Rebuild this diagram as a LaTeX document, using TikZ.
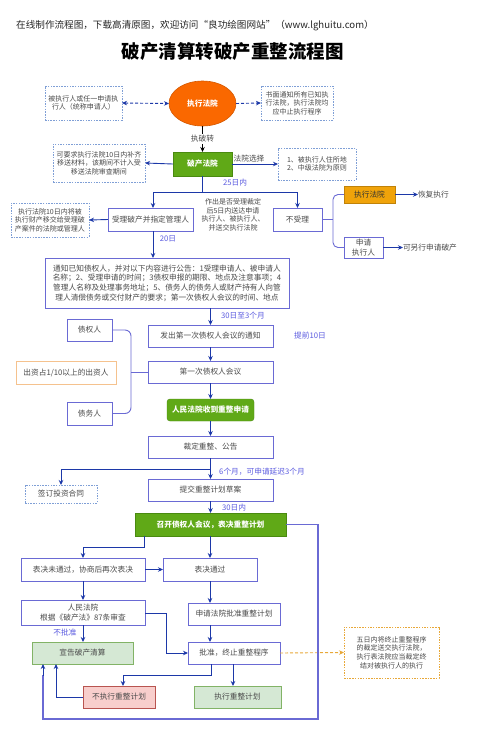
\documentclass[tikz,border=0pt]{standalone}
\usepackage{fontspec}
\setmainfont{Noto Sans CJK SC}
\usetikzlibrary{arrows.meta,shapes.geometric}
\definecolor{bxc}{HTML}{6A6AD4}
\definecolor{lnc}{HTML}{1C38A8}
\definecolor{lbc}{HTML}{5A5AE0}
\definecolor{txt}{HTML}{4A4A4A}
\definecolor{dbc}{HTML}{7F9FD6}
\definecolor{orgE}{HTML}{FA6800}
\definecolor{orgB}{HTML}{F0A30A}
\definecolor{grn}{HTML}{60A917}
\definecolor{grnD}{HTML}{4A8A10}
\definecolor{lgF}{HTML}{D5E8D4}
\definecolor{lgD}{HTML}{82B366}
\definecolor{lrF}{HTML}{F8CECC}
\definecolor{lrD}{HTML}{B85450}
\definecolor{pch}{HTML}{F5C28E}
\definecolor{ndash}{HTML}{E8A838}
\begin{document}
\begin{tikzpicture}[x=1pt,y=-1pt,
  base/.style={font=\fontsize{7.7}{9.6}\selectfont, text=txt, align=center, inner sep=0pt, outer sep=0pt},
  sz/.style 2 args={minimum width=#1pt, minimum height=#2pt},
  bx/.style={base, draw=bxc, line width=0.9pt, fill=white},
  dbx/.style={base, font=\fontsize{7}{8.6}\selectfont, draw=dbc, line width=0.7pt, dash pattern=on 1.5pt off 1.2pt, fill=white},
  gbx/.style={base, draw=grnD, fill=grn, text=white, font=\fontsize{7.7}{9.6}\selectfont\bfseries},
  lgbx/.style={base, draw=lgD, fill=lgF, line width=0.8pt},
  lrbx/.style={base, draw=lrD, fill=lrF, line width=0.8pt},
  arr/.style={draw=lnc, line width=0.9pt, -{Stealth[length=5pt,width=4.5pt]}},
  ln/.style={draw=lnc, line width=0.9pt},
  darr/.style={draw=lnc, line width=0.9pt, dash pattern=on 3pt off 2pt, -{Stealth[length=5pt,width=4.5pt]}},
  brc/.style={draw=bxc, line width=0.9pt},
  lab/.style={base, text=lbc, font=\fontsize{7.7}{9.6}\selectfont},
  plain/.style={base, font=\fontsize{7.7}{9.6}\selectfont}
]
\useasboundingbox[fill=white] (0,0) rectangle (478,737);

% header and title
\node[anchor=west, font=\fontsize{9.6}{11}\selectfont, text=black!85, inner sep=0pt] (hdr) at (16,26) {在线制作流程图，下载高清原图，欢迎访问“良功绘图网站”（www.lghuitu.com）};
\node[font=\fontsize{18.5}{20}\selectfont\bfseries, inner sep=0pt] (title) at (232.5,52) {破产清算转破产重整流程图};

% top part
\node[ellipse, base, sz={67}{45}, fill=orgE, draw=orgE!85!black, line width=0.6pt, text=white, font=\fontsize{7.7}{9.6}\selectfont\bfseries] (court) at (202.5,103.5) {执行法院};
\node[dbx, sz={77}{34}] (lbox) at (83.5,103) {被执行人或任一申请执\\行人（统称申请人）};
\node[dbx, sz={72}{34}] (rbox) at (297,103) {书面通知所有已知执\\行法院，执行法院均\\应中止执行程序};
\draw[darr, {Stealth[length=5pt,width=4.5pt]}-{Stealth[length=5pt,width=4.5pt]}] (lbox.east) -- (court.west);
\draw[darr] (court.east) -- (rbox.west);

\node[gbx, sz={59}{24}] (bc) at (202.5,164) {破产法院};
\draw[draw=black, line width=0.9pt, -{Stealth[length=5pt,width=4.5pt]}] (court.south) -- (bc.north);
\node[plain, fill=white, inner sep=1pt] (zpz) at (202.5,139) {执破转};

\node[dbx, sz={92}{38}] (bcl) at (99,163) {可要求执行法院10日内补齐\\移送材料，该期间不计入受\\移送法院审查期间};
\node[dbx, sz={78}{32}] (bcr) at (317,164) {1、被执行人住所地\\2、中级法院为原则};
\draw[arr] (bc.west) -- (bcl.east);
\draw[arr] (bc.east) -- (bcr.west);
\node[plain, anchor=south] (fyxz) at (249,162.5) {法院选择};

\node[bx, sz={85}{23}] (accept) at (150.5,219.5) {受理破产并指定管理人};
\node[bx, sz={49}{23}] (reject) at (297.5,219.5) {不受理};
\coordinate (sp1) at (202.5,192);
\draw[ln] (bc.south) -- (sp1);
\draw[arr] (sp1) -| ([xshift=2.5pt]accept.north);
\draw[arr] (sp1) -| (reject.north);
\node[lab] (d25) at (235,183) {25日内};
\node[base, font=\fontsize{7}{8.6}\selectfont] (mid) at (233,215) {作出是否受理裁定\\后5日内送达申请\\执行人、被执行人、\\并送交执行法院};

\node[dbx, sz={78}{34}] (accl) at (50,220) {执行法院10日内将被\\执行财产移交给受理破\\产案件的法院或管理人};
\draw[arr] (accept.west) -- (accl.east);

\node[base, sz={51}{17}, fill=orgB, draw=orgB!80!black, line width=0.6pt, text=black!80] (exc) at (369.5,194.5) {执行法院};
\node[bx, sz={39}{21}] (appl) at (363.5,247.5) {申请\\执行人};
\draw[brc, rounded corners=5pt] (exc.west) -- (333,194.5) -- (333,247.5) -- (appl.west);
\draw[brc] (reject.east) -- (333,219.5);
\node[plain, anchor=west] (hf) at (418,194.5) {恢复执行};
\node[plain, anchor=west] (lx) at (403,247.5) {可另行申请破产};
\draw[arr] (exc.east) -- (hf.west);
\draw[arr] (appl.east) -- (lx.west);

% notice
\node[bx, sz={244}{50}] (notice) at (167,283) {通知已知债权人，并对以下内容进行公告：1受理申请人、被申请人\\名称；2、受理申请的时间；3债权申报的期限、地点及注意事项；4\\管理人名称及处理事务地址；5、债务人的债务人或财产持有人向管\\理人清偿债务或交付财产的要求；第一次债权人会议的时间、地点};
\draw[arr] ([xshift=2.5pt]accept.south) -- ([xshift=2.5pt]accept.south |- notice.north);
\node[lab] (d20) at (168,239) {20日};

\node[bx, sz={125}{22}] (send) at (210.5,336) {发出第一次债权人会议的通知};
\draw[arr] (send.north |- notice.south) -- (send.north);
\node[lab] (d30) at (243,316) {30日至3个月};
\node[lab] (tq) at (310,336) {提前10日};

\node[bx, sz={125}{22}] (meet) at (210.5,372) {第一次债权人会议};
\draw[arr] (send.south) -- (meet.north);

\node[bx, sz={45}{22}] (cred) at (89.5,330) {债权人};
\node[bx, sz={45}{23}] (debt) at (89.5,413.5) {债务人};
\node[base, sz={100}{23}, draw=pch, line width=1pt, fill=white] (inv) at (66,372.5) {出资占1/10以上的出资人};
\draw[brc, rounded corners=6pt] (cred.east) -- (131,330) -- (131,413.5) -- (debt.east);
\draw[brc] (131,372) -- (meet.west);

\node[gbx, sz={87}{22}, rounded corners=3pt] (recv) at (210.5,410) {人民法院收到重整申请};
\draw[arr] (meet.south) -- (recv.north);

\node[bx, sz={125}{22}] (ruling) at (210.5,447) {裁定重整、公告};
\draw[arr] (recv.south) -- (ruling.north);

\node[bx, sz={125}{22}] (submit) at (210.5,490) {提交重整计划草案};
\node[dbx, sz={72}{18}, font=\fontsize{7.7}{9.6}\selectfont] (sign) at (61,494) {签订投资合同};
\coordinate (sp2) at (210.5,469);
\draw[arr] (ruling.south) -- (submit.north);
\draw[arr] (sp2) -| (sign.north);
\node[lab] (d6) at (262,472) {6个月，可申请延迟3个月};

\node[gbx, sz={151}{23}] (conv) at (210.5,524.5) {召开债权人会议，表决重整计划};
\draw[arr] (submit.south) -- (conv.north);
\node[lab] (d30b) at (234,508) {30日内};

\node[bx, sz={124}{23}] (fail) at (83,569.5) {表决未通过，协商后再次表决};
\node[bx, sz={94}{23}] (pass) at (210,569.5) {表决通过};
\draw[arr] (144,536) -- (144,547) -| (fail.north);
\draw[arr] (pass.north |- conv.south) -- (pass.north);
\draw[arr] (fail.east) -- (pass.west);

\node[bx, sz={124}{25}] (c87) at (83,612.5) {人民法院\\根据《破产法》87条审查};
\draw[arr] (fail.south) -- (c87.north);

\node[lgbx, sz={101}{22}] (liq) at (82.5,653) {宣告破产清算};
\draw[arr] (c87.south) -- (c87.south |- liq.north);
\node[lab] (bpz) at (65,633) {不批准};

\node[bx, sz={92}{22}] (aap) at (234,614) {申请法院批准重整计划};
\node[bx, sz={92}{22}] (appr) at (234,653) {批准，终止重整程序};
\draw[arr] (pass.south) -- (pass.south |- aap.north);
\draw[arr] (pass.south |- aap.south) -- (pass.south |- appr.north);
\draw[arr] (c87.east |- 0,613) -- (166,613) -- (166,653) -- (appr.west);

\node[dbx, draw=ndash, sz={95}{51}] (note5) at (391.5,652.5) {五日内将终止重整程序\\的裁定送交执行法院，\\执行表法院应当裁定终\\结对被执行人的执行};
\draw[draw=ndash, line width=0.9pt, dash pattern=on 3pt off 2pt, -{Stealth[length=5pt,width=4.5pt]}] (appr.east) -- (note5.west);

\node[lrbx, sz={72}{22}] (nexec) at (119,697) {不执行重整计划};
\node[lgbx, sz={87}{22}] (exec) at (237.5,697) {执行重整计划};
\draw[arr] (211,664) -- (211,675) -- (123,675) -- (123,686);
\draw[arr] (233,664) -- (233,686);
\draw[arr] (nexec.west) -- (56,697) -- (56,664);

\draw[draw=bxc, line width=1.2pt] (conv.east) -- (318,524.5) -- (318,719) -- (43,719) -- (43,675);
\draw[arr] (43,676) -- (43,664);
\end{tikzpicture}
\end{document}
